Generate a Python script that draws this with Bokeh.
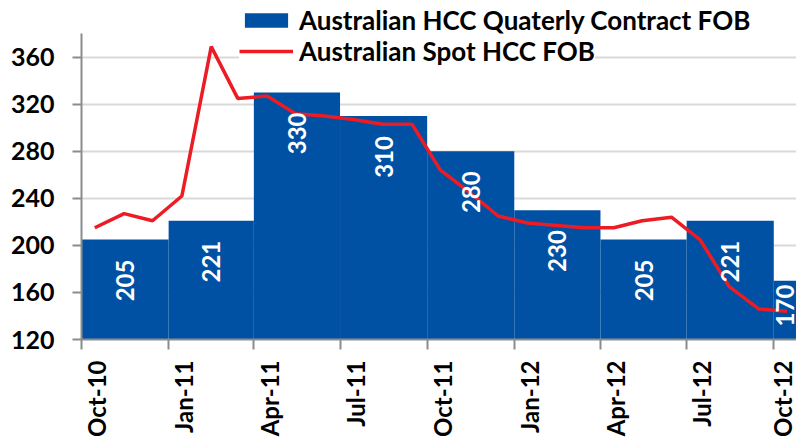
import numpy as np
import pandas as pd
from bokeh.plotting import figure
from bokeh.models import (ColumnDataSource, FixedTicker, Legend, LegendItem, Range1d, LinearAxis)
from bokeh.embed import file_html
from bokeh.resources import INLINE
from bokeh.core.properties import value

# ---- data ----
quarter_starts = ["2010-10-01", "2011-01-01", "2011-04-01", "2011-07-01", "2011-10-01",
                  "2012-01-01", "2012-04-01", "2012-07-01", "2012-10-01"]
quarter_ends = ["2011-01-01", "2011-04-01", "2011-07-01", "2011-10-01", "2012-01-01",
                "2012-04-01", "2012-07-01", "2012-10-01", "2013-01-01"]
contract = [205, 221, 330, 310, 280, 230, 205, 221, 170]

spot_dates = ["2010-10-15", "2010-11-15", "2010-12-15", "2011-01-15", "2011-02-15",
              "2011-03-15", "2011-04-15", "2011-05-15", "2011-06-15", "2011-07-15",
              "2011-08-15", "2011-09-15", "2011-10-15", "2011-11-15", "2011-12-15",
              "2012-01-15", "2012-02-15", "2012-03-15", "2012-04-15", "2012-05-15",
              "2012-06-15", "2012-07-15", "2012-08-15", "2012-09-15", "2012-10-15"]
spot = [215, 227, 221, 242, 369, 325, 327, 312, 310, 307, 303, 303, 264, 245, 225,
        219, 217, 215, 215, 221, 224, 205, 165, 146, 144]

tick_dates = ["2010-10-01", "2011-01-01", "2011-04-01", "2011-07-01", "2011-10-01",
              "2012-01-01", "2012-04-01", "2012-07-01", "2012-10-01"]
tick_labels = ["Oct-10", "Jan-11", "Apr-11", "Jul-11", "Oct-11",
               "Jan-12", "Apr-12", "Jul-12", "Oct-12"]
y_ticks = [120, 160, 200, 240, 280, 320, 360]

axis_start = "2010-10-01"
axis_end = "2012-10-25"
y_axis_min, y_axis_max = 120, 380   # drawn value axis
y_view_max = 404                    # room above the axis for the legend

series_names = ["Australian HCC Quaterly Contract FOB", "Australian Spot HCC FOB"]

# ---- styling constants ----
BLUE = "#0051A3"
RED = "#ED1C24"
FONT = "Lato"
AXIS_GREY = "#8c8c8c"
W, H = 796, 443
BORDER_L, BORDER_T, BORDER_B = 81, 5, 104
LABEL_SHIFT_DAYS = 16      # date labels sit slightly right of their tick

# ---- helpers ----
origin = pd.Timestamp(axis_start)
def days(d):
    return (pd.Timestamp(d) - origin).days

x_end = days(axis_end)
qs = np.array([days(d) for d in quarter_starts], dtype=float)
qe = np.array([days(d) for d in quarter_ends], dtype=float)
label_x = (np.clip(qs, 0, x_end) + np.clip(qe, 0, x_end)) / 2.0

px_per_unit = (H - BORDER_T - BORDER_B) / (y_view_max - y_axis_min)
bar_px = (np.array(contract) - y_axis_min) * px_per_unit
label_off = np.where(bar_px >= 64, 20, 4)

bar_src = ColumnDataSource(dict(left=qs, right=qe, top=contract,
                                bottom=[y_axis_min - 200] * len(contract),
                                lx=label_x, txt=[str(v) for v in contract],
                                yoff=label_off))
line_src = ColumnDataSource(dict(x=[days(d) for d in spot_dates], y=spot))

p = figure(width=W, height=H, output_backend="svg", toolbar_location=None,
           x_range=Range1d(0, x_end), y_range=Range1d(y_axis_min, y_view_max),
           min_border_left=BORDER_L, min_border_right=0, min_border_top=BORDER_T,
           min_border_bottom=BORDER_B)
p.outline_line_color = None
p.background_fill_color = "white"

bars = p.quad(left="left", right="right", top="top", bottom="bottom", source=bar_src,
              fill_color=BLUE, line_color=None)
line = p.line(x="x", y="y", source=line_src, line_color=RED, line_width=3.5)

p.text(x="lx", y="top", text="txt", source=bar_src, angle=np.pi / 2,
       text_align="right", text_baseline="middle", y_offset="yoff",
       text_color="white", text_font=value(FONT), text_font_style="bold",
       text_font_size="24px")

# x axis: ticks on the main axis, date labels on a second label-only axis
xa = p.below[0]
xa.ticker = FixedTicker(ticks=[days(d) for d in tick_dates])
xa.major_label_text_font_size = "1px"
xa.major_label_text_alpha = 0
xa.major_label_standoff = 0
xa.major_tick_out = 10
xa.major_tick_in = 0
xa.minor_tick_out = 0
xa.minor_tick_in = 0
xa.axis_line_color = AXIS_GREY
xa.axis_line_width = 2
xa.major_tick_line_color = AXIS_GREY
xa.major_tick_line_width = 2

shifted = [days(d) + LABEL_SHIFT_DAYS for d in tick_dates]
label_axis = LinearAxis(ticker=FixedTicker(ticks=shifted),
                        major_label_overrides={t: lab for t, lab in zip(shifted, tick_labels)},
                        major_label_orientation=np.pi / 2,
                        major_label_text_font=FONT, major_label_text_font_style="bold",
                        major_label_text_font_size="24px", major_label_text_color="black",
                        major_label_standoff=11, major_tick_out=0, major_tick_in=0,
                        minor_tick_out=0, minor_tick_in=0, axis_line_color=None)
p.add_layout(label_axis, "below")

ya = p.yaxis[0]
ya.ticker = FixedTicker(ticks=y_ticks)
ya.bounds = (y_axis_min, y_axis_max)
ya.major_label_text_font = FONT
ya.major_label_text_font_style = "bold"
ya.major_label_text_font_size = "25px"
ya.major_label_text_color = "black"
ya.major_label_standoff = 18
ya.major_tick_out = 9
ya.major_tick_in = 0
ya.minor_tick_out = 0
ya.minor_tick_in = 0
ya.axis_line_color = AXIS_GREY
ya.axis_line_width = 2
ya.major_tick_line_color = AXIS_GREY
ya.major_tick_line_width = 2

p.xgrid.grid_line_color = None
p.ygrid.grid_line_color = "#d9d9d9"
p.ygrid.grid_line_width = 2

legend_style = dict(orientation="vertical", glyph_width=54, glyph_height=18, label_standoff=6,
                    label_text_font=FONT, label_text_font_style="bold",
                    label_text_font_size="26px", label_text_color="black",
                    padding=2, margin=0, spacing=0, border_line_color=None,
                    background_fill_color="white", background_fill_alpha=1.0)
legend_bar = Legend(items=[LegendItem(label=series_names[0], renderers=[bars])],
                    location=(158, 303), **legend_style)
legend_line = Legend(items=[LegendItem(label=series_names[1], renderers=[line])],
                     location=(158, 272), **legend_style)
p.add_layout(legend_bar)
p.add_layout(legend_line)

open("out.html", "w").write(file_html(p, INLINE))
